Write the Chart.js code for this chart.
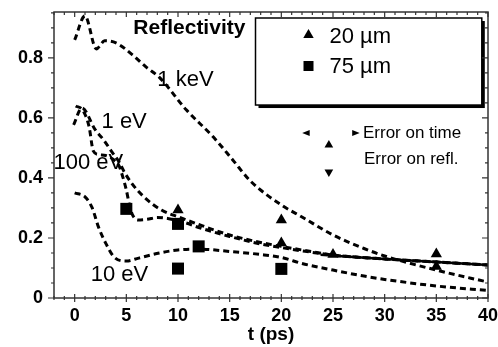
<!DOCTYPE html>
<html>
<head>
<meta charset="utf-8">
<script src="https://cdn.jsdelivr.net/npm/chart.js@4"></script>
<style>
  html, body { margin: 0; background: #fff; }
</style>
</head>
<body>
<canvas id="chart" width="498" height="347"></canvas>
<script>
// axes
const xTicks = [0, 5, 10, 15, 20, 25, 30, 35, 40];
const yTicks = [0, 0.2, 0.4, 0.6, 0.8];

// simulated reflectivity curves (t in ps)
const keV1T = [0, 1, 2.1, 2.9, 4, 5.6, 6.9, 8.2, 10.8, 13.4, 15.3, 17, 20, 22, 25, 28, 30, 35, 40];
const keV1R = [0.86, 0.94, 0.83, 0.857, 0.85, 0.81, 0.77, 0.735, 0.627, 0.537, 0.46, 0.39, 0.31, 0.27, 0.21, 0.165, 0.14, 0.093, 0.053];

const eV1T = [-0.1, 0.7, 2, 2.8, 3.6, 4.3, 4.8, 5.5, 6.7, 8.4, 10.3, 12, 15, 18, 20, 22, 25, 30, 35, 40];
const eV1R = [0.577, 0.633, 0.56, 0.527, 0.487, 0.453, 0.42, 0.383, 0.337, 0.293, 0.267, 0.245, 0.21, 0.185, 0.172, 0.16, 0.143, 0.13, 0.12, 0.11];

const eV100T = [0.1, 0.8, 1.4, 1.8, 2.3, 3, 3.8, 4.3, 4.6, 5, 5.3, 5.6, 6.1, 7, 8, 9, 10.6, 12, 15, 18, 20, 22, 25, 30, 35, 40];
const eV100R = [0.64, 0.625, 0.57, 0.49, 0.478, 0.475, 0.46, 0.44, 0.41, 0.36, 0.31, 0.277, 0.26, 0.262, 0.268, 0.265, 0.252, 0.235, 0.205, 0.18, 0.168, 0.157, 0.143, 0.13, 0.12, 0.11];

const eV10T = [0, 1, 1.7, 2.3, 3, 3.8, 5, 6.2, 8.2, 10, 12, 15, 18, 20, 22, 25, 28, 30, 35, 40];
const eV10R = [0.35, 0.337, 0.3, 0.237, 0.183, 0.137, 0.123, 0.133, 0.15, 0.16, 0.163, 0.155, 0.145, 0.135, 0.115, 0.093, 0.073, 0.062, 0.04, 0.025];

// where the 1 eV and 100 eV curves lie on top of each other
const overlapT = [23.8, 30, 35, 40];
const overlapR = [0.144, 0.13, 0.12, 0.11];

// measurements
const um20T = [10, 20, 20, 25, 35, 35];
const um20R = [0.293, 0.26, 0.183, 0.145, 0.147, 0.105];
const um75T = [5, 10, 10, 12, 20];
const um75R = [0.297, 0.247, 0.098, 0.172, 0.097];

const FONT = '"Liberation Sans", Arial, Helvetica, sans-serif';

const pts = (t, r) => t.map((x, i) => ({ x, y: r[i] }));

function curve(t, r, dashed) {
    return {
        data: pts(t, r),
        showLine: true,
        pointRadius: 0,
        borderColor: '#000',
        borderWidth: dashed ? 3 : 2.5,
        borderDash: dashed ? [6, 4] : [],
        cubicInterpolationMode: 'monotone',
        fill: false
    };
}

function marks(t, r, style, radius) {
    return {
        data: pts(t, r),
        showLine: false,
        pointStyle: style,
        pointRadius: radius,
        pointHoverRadius: radius,
        backgroundColor: '#000',
        borderColor: '#000',
        borderWidth: 0
    };
}

function tri(ctx, cx, cy, s, dir) {
    ctx.beginPath();
    if (dir === 'up') { ctx.moveTo(cx, cy - s); ctx.lineTo(cx + s * 0.87, cy + s * 0.5); ctx.lineTo(cx - s * 0.87, cy + s * 0.5); }
    if (dir === 'down') { ctx.moveTo(cx, cy + s); ctx.lineTo(cx + s * 0.87, cy - s * 0.5); ctx.lineTo(cx - s * 0.87, cy - s * 0.5); }
    if (dir === 'left') { ctx.moveTo(cx - s, cy); ctx.lineTo(cx + s * 0.5, cy - s * 0.6); ctx.lineTo(cx + s * 0.5, cy + s * 0.6); }
    if (dir === 'right') { ctx.moveTo(cx + s, cy); ctx.lineTo(cx - s * 0.5, cy - s * 0.6); ctx.lineTo(cx - s * 0.5, cy + s * 0.6); }
    ctx.closePath();
    ctx.fill();
}

// labels, legend box, error key, then the frame with ticks on all four sides
const notes = {
    id: 'notes',
    afterDraw(chart) {
        const { ctx, scales: { x, y } } = chart;
        const X = v => x.getPixelForValue(v);
        const Y = v => y.getPixelForValue(v);
        ctx.save();
        ctx.fillStyle = '#000';
        ctx.textBaseline = 'middle';

        ctx.font = 'bold 21px ' + FONT;
        ctx.textAlign = 'center';
        ctx.fillText('Reflectivity', X(11.1), Y(0.9));

        ctx.font = '22px ' + FONT;
        ctx.textAlign = 'left';
        ctx.fillText('1 keV', X(8.0), Y(0.725));
        ctx.fillText('1 eV', X(2.6), Y(0.587));
        ctx.fillText('100 eV', X(-2.05), Y(0.45));
        ctx.fillText('10 eV', X(1.56), Y(0.077));

        // legend box with shadow
        const l = X(17.5), r = X(39.4), t = Y(0.933), b = Y(0.643);
        ctx.fillStyle = '#000';
        ctx.fillRect(l + 3, t + 3, r - l, b - t);
        ctx.fillStyle = '#fff';
        ctx.fillRect(l, t, r - l, b - t);
        ctx.strokeStyle = '#000';
        ctx.lineWidth = 1.5;
        ctx.strokeRect(l, t, r - l, b - t);

        ctx.fillStyle = '#000';
        tri(ctx, l + 53, t + 17, 6, 'up');
        ctx.fillRect(l + 48, t + 43, 10, 10);
        ctx.font = '22px ' + FONT;
        ctx.fillText('20 \u00b5m', l + 74, t + 19);
        ctx.fillText('75 \u00b5m', l + 74, t + 49);

        // error key
        ctx.font = '17px ' + FONT;
        tri(ctx, X(22.5), Y(0.55), 5, 'left');
        tri(ctx, X(27.1), Y(0.55), 5, 'right');
        ctx.fillText('Error on time', X(27.9), Y(0.55));
        tri(ctx, X(24.6), Y(0.51), 5, 'up');
        tri(ctx, X(24.6), Y(0.42), 5, 'down');
        ctx.fillText('Error on refl.', X(28), Y(0.463));

        // frame
        const L = X(-2), R = X(40), T = Y(0.953), B = Y(0);
        ctx.strokeStyle = '#333';
        ctx.lineWidth = 1.5;
        ctx.strokeRect(L, T, R - L, B - T);
        ctx.lineWidth = 1.2;
        ctx.beginPath();
        for (let v = -2; v <= 40; v++) {
            const major = v % 5 === 0;
            ctx.moveTo(X(v), B - (major ? 4 : 2));
            ctx.lineTo(X(v), B + (major ? 4 : 2));
            ctx.moveTo(X(v), T);
            ctx.lineTo(X(v), T + (major ? 5 : 3));
        }
        for (let k = 0; k <= 19; k++) {
            const major = k % 4 === 0;
            ctx.moveTo(L - (major ? 6 : 3), Y(k * 0.05));
            ctx.lineTo(L, Y(k * 0.05));
            ctx.moveTo(R - (major ? 6 : 3), Y(k * 0.05));
            ctx.lineTo(R, Y(k * 0.05));
        }
        ctx.stroke();
        ctx.restore();
    }
};

new Chart(document.getElementById('chart'), {
    type: 'scatter',
    data: {
        datasets: [
            curve(keV1T, keV1R, true),
            curve(eV1T, eV1R, true),
            curve(eV100T, eV100R, true),
            curve(eV10T, eV10R, true),
            curve(overlapT, overlapR, false),
            marks(um20T, um20R, 'triangle', 6.5),
            marks(um75T, um75R, 'rect', 8.5)
        ]
    },
    options: {
        responsive: false,
        animation: false,
        layout: { padding: { top: 12, right: 10, left: 0, bottom: 0 } },
        plugins: { legend: { display: false }, tooltip: { enabled: false } },
        scales: {
            x: {
                type: 'linear',
                min: -2,
                max: 40,
                afterBuildTicks: s => { s.ticks = xTicks.map(v => ({ value: v })); },
                afterFit: s => { s.height = 49; s.paddingLeft = 0; s.paddingRight = 0; },
                grid: { display: false, drawTicks: false },
                border: { display: false },
                ticks: { color: '#000', font: { family: FONT, size: 18, weight: 'bold' }, padding: 7, maxRotation: 0 },
                title: { display: true, text: 't (ps)', color: '#000', font: { family: FONT, size: 19, weight: 'bold' }, padding: { top: 0, bottom: 1 } }
            },
            y: {
                type: 'linear',
                min: 0,
                max: 0.953,
                afterBuildTicks: s => { s.ticks = yTicks.map(v => ({ value: v })); },
                afterFit: s => { s.width = 54; s.paddingTop = 0; s.paddingBottom = 0; },
                grid: { display: false, drawTicks: false },
                border: { display: false },
                ticks: { color: '#000', font: { family: FONT, size: 18, weight: 'bold' }, padding: 11, callback: v => String(v) }
            }
        }
    },
    plugins: [notes]
});
</script>
</body>
</html>
